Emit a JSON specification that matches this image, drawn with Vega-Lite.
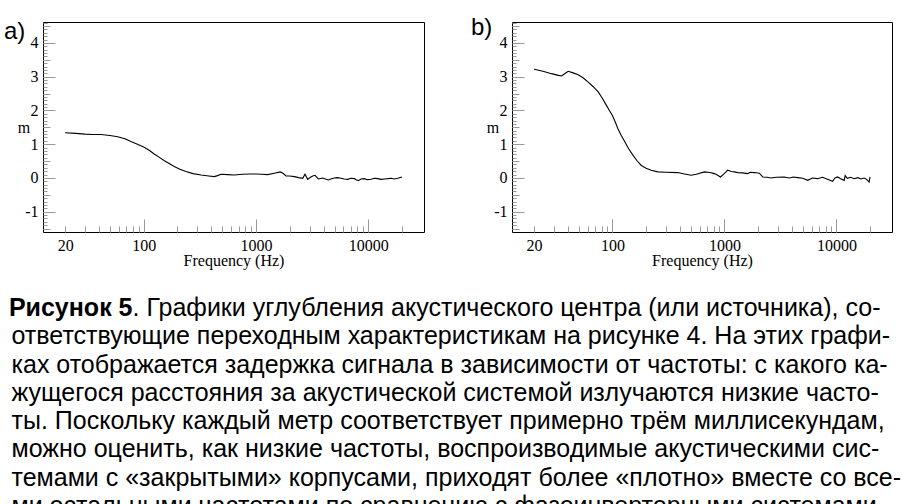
{
  "$schema": "https://vega.github.io/schema/vega-lite/v6.json",
  "padding": {"left": 3, "top": 14, "right": 0, "bottom": 0},
  "background": "white",
  "config": {
    "view": {"stroke": "black", "strokeWidth": 1},
    "axis": {
      "domain": false, "grid": false, "tickColor": "#999",
      "labelFont": "Liberation Serif", "labelFontSize": 16, "labelColor": "black",
      "titleFont": "Liberation Serif", "titleFontSize": 16, "titleFontWeight": "normal", "titleColor": "black",
      "labelOverlap": false, "labelFlush": false
    },
    "title": {"font": "Liberation Sans", "fontSize": 24, "fontWeight": "normal", "color": "black", "anchor": "start", "frame": "group", "baseline": "alphabetic"}
  },
  "datasets": {
    "a": [
      {"f": 20, "m": 1.34}, {"f": 25, "m": 1.32}, {"f": 30, "m": 1.3}, {"f": 35, "m": 1.29},
      {"f": 41.7, "m": 1.29}, {"f": 50, "m": 1.26}, {"f": 58.7, "m": 1.22}, {"f": 68, "m": 1.16},
      {"f": 77, "m": 1.08}, {"f": 88, "m": 1.0}, {"f": 100, "m": 0.92}, {"f": 112, "m": 0.82},
      {"f": 124, "m": 0.71}, {"f": 138, "m": 0.61}, {"f": 153, "m": 0.51}, {"f": 170, "m": 0.42},
      {"f": 187, "m": 0.34}, {"f": 210, "m": 0.26}, {"f": 238, "m": 0.19}, {"f": 275, "m": 0.13},
      {"f": 324, "m": 0.09}, {"f": 380, "m": 0.06}, {"f": 425, "m": 0.04}, {"f": 455, "m": 0.07},
      {"f": 488, "m": 0.11}, {"f": 560, "m": 0.1}, {"f": 641, "m": 0.09}, {"f": 760, "m": 0.11},
      {"f": 880, "m": 0.12}, {"f": 1000, "m": 0.12}, {"f": 1130, "m": 0.11}, {"f": 1270, "m": 0.1},
      {"f": 1455, "m": 0.14}, {"f": 1646, "m": 0.18}, {"f": 1740, "m": 0.14}, {"f": 1850, "m": 0.06},
      {"f": 2000, "m": 0.06}, {"f": 2194, "m": 0.04}, {"f": 2400, "m": 0.01}, {"f": 2606, "m": -0.01},
      {"f": 2731, "m": 0.11}, {"f": 2884, "m": -0.04}, {"f": 3050, "m": 0.02}, {"f": 3199, "m": 0.06},
      {"f": 3350, "m": 0.08}, {"f": 3589, "m": -0.03}, {"f": 3926, "m": 0.0}, {"f": 4150, "m": -0.03},
      {"f": 4406, "m": -0.06}, {"f": 4700, "m": -0.02}, {"f": 4979, "m": 0.0}, {"f": 5300, "m": 0.01},
      {"f": 5715, "m": -0.01}, {"f": 6100, "m": -0.03}, {"f": 6556, "m": -0.04}, {"f": 7000, "m": -0.01},
      {"f": 7505, "m": -0.02}, {"f": 7800, "m": -0.05}, {"f": 8150, "m": -0.08}, {"f": 8600, "m": -0.03},
      {"f": 9225, "m": -0.02}, {"f": 9800, "m": -0.05}, {"f": 10580, "m": -0.04}, {"f": 11300, "m": -0.01},
      {"f": 12140, "m": -0.02}, {"f": 13000, "m": -0.04}, {"f": 13910, "m": -0.03}, {"f": 15000, "m": -0.02},
      {"f": 15930, "m": -0.01}, {"f": 17000, "m": -0.03}, {"f": 18280, "m": -0.01}, {"f": 19950, "m": 0.03}
    ],
    "b": [
      {"f": 20, "m": 3.22}, {"f": 24, "m": 3.16}, {"f": 28.6, "m": 3.09}, {"f": 33, "m": 3.04},
      {"f": 35.2, "m": 3.02}, {"f": 38, "m": 3.1}, {"f": 40.3, "m": 3.16}, {"f": 44, "m": 3.12},
      {"f": 49.5, "m": 3.06}, {"f": 55, "m": 2.96}, {"f": 60.8, "m": 2.84}, {"f": 67, "m": 2.71},
      {"f": 74.7, "m": 2.55}, {"f": 81, "m": 2.37}, {"f": 88.5, "m": 2.15}, {"f": 94, "m": 2.0},
      {"f": 100, "m": 1.85}, {"f": 106, "m": 1.66}, {"f": 112, "m": 1.46}, {"f": 120, "m": 1.26},
      {"f": 129, "m": 1.07}, {"f": 140, "m": 0.86}, {"f": 153, "m": 0.67}, {"f": 166, "m": 0.51},
      {"f": 181, "m": 0.37}, {"f": 200, "m": 0.29}, {"f": 222, "m": 0.23}, {"f": 255, "m": 0.18},
      {"f": 300, "m": 0.17}, {"f": 384, "m": 0.16}, {"f": 440, "m": 0.12}, {"f": 505, "m": 0.08},
      {"f": 560, "m": 0.11}, {"f": 663, "m": 0.18}, {"f": 740, "m": 0.16}, {"f": 815, "m": 0.13},
      {"f": 870, "m": 0.08}, {"f": 921, "m": 0.03}, {"f": 990, "m": 0.12}, {"f": 1072, "m": 0.23},
      {"f": 1150, "m": 0.19}, {"f": 1230, "m": 0.18}, {"f": 1315, "m": 0.16}, {"f": 1450, "m": 0.15},
      {"f": 1614, "m": 0.13}, {"f": 1700, "m": 0.17}, {"f": 1850, "m": 0.16}, {"f": 2050, "m": 0.14},
      {"f": 2198, "m": 0.03}, {"f": 2400, "m": 0.02}, {"f": 2606, "m": 0.0}, {"f": 2900, "m": 0.02},
      {"f": 3422, "m": 0.03}, {"f": 3800, "m": 0.0}, {"f": 4100, "m": 0.03}, {"f": 4505, "m": 0.01},
      {"f": 5000, "m": -0.01}, {"f": 5533, "m": -0.07}, {"f": 6100, "m": 0.0}, {"f": 6792, "m": -0.02},
      {"f": 7500, "m": 0.02}, {"f": 8200, "m": -0.03}, {"f": 9230, "m": -0.1}, {"f": 9700, "m": 0.0},
      {"f": 10230, "m": 0.03}, {"f": 10900, "m": -0.02}, {"f": 11720, "m": -0.07}, {"f": 11950, "m": 0.07},
      {"f": 12500, "m": -0.01}, {"f": 13400, "m": 0.02}, {"f": 14380, "m": -0.02}, {"f": 15500, "m": 0.01},
      {"f": 16500, "m": -0.03}, {"f": 17650, "m": 0.0}, {"f": 18600, "m": -0.04}, {"f": 19560, "m": -0.12},
      {"f": 19950, "m": 0.03}
    ],
    "caption": [
      {"line": 1, "part": "bold", "text": "Рисунок 5"},
      {"line": 1, "part": "rest", "text": ". Графики углубления акустического центра (или источника), со-"},
      {"line": 2, "part": "body", "text": "ответствующие переходным характеристикам на рисунке 4. На этих графи-"},
      {"line": 3, "part": "body", "text": "ках отображается задержка сигнала в зависимости от частоты: с какого ка-"},
      {"line": 4, "part": "body", "text": "жущегося расстояния за акустической системой излучаются низкие часто-"},
      {"line": 5, "part": "body", "text": "ты. Поскольку каждый метр соответствует примерно трём миллисекундам,"},
      {"line": 6, "part": "body", "text": "можно оценить, как низкие частоты, воспроизводимые акустическими сис-"},
      {"line": 7, "part": "body", "text": "темами с «закрытыми» корпусами, приходят более «плотно» вместе со все-"},
      {"line": 8, "part": "body", "text": "ми остальными частотами по сравнению с фазоинверторными системами."}
    ]
  },
  "concat": [
    {
      "width": 381, "height": 210,
      "title": {"text": "a)", "dx": -39, "offset": -29},
      "data": {"name": "a"},
      "layer": [
        {
          "mark": {"type": "line", "color": "black", "strokeWidth": 1.1, "clip": true},
          "encoding": {
            "x": {"field": "f", "type": "quantitative", "scale": {"type": "log", "domain": [12.7, 31300], "nice": false},
              "axis": {"orient": "bottom", "values": [20, 30, 40, 50, 60, 70, 80, 90, 100, 200, 300, 400, 500, 600, 700, 800, 900, 1000, 2000, 3000, 4000, 5000, 6000, 7000, 8000, 9000, 10000, 20000],
                "labelExpr": "datum.value == 20 || datum.value == 100 || datum.value == 1000 || datum.value == 10000 ? '' + datum.value : ''",
                "tickSize": -6, "labelPadding": 11, "title": "Frequency (Hz)", "titlePadding": -1}},
            "y": {"field": "m", "type": "quantitative", "scale": {"domain": [-1.6, 4.62], "nice": false, "zero": false},
              "axis": {"orient": "left", "values": [-1.5, -1.4, -1.3, -1.2, -1.1, -1, -0.9, -0.8, -0.7, -0.6, -0.5, -0.4, -0.3, -0.2, -0.1, 0, 0.1, 0.2, 0.3, 0.4, 0.5, 0.6, 0.7, 0.8, 0.9, 1, 1.1, 1.2, 1.3, 1.4, 1.5, 1.6, 1.7, 1.8, 1.9, 2, 2.1, 2.2, 2.3, 2.4, 2.5, 2.6, 2.7, 2.8, 2.9, 3, 3.1, 3.2, 3.3, 3.4, 3.5, 3.6, 3.7, 3.8, 3.9, 4, 4.1, 4.2, 4.3, 4.4, 4.5, 4.6],
                "labelExpr": "datum.value % 1 == 0 ? '' + datum.value : ''",
                "tickSize": -4, "labelPadding": 9, "title": "m", "titleAngle": 0, "titleAlign": "right", "titleBaseline": "middle", "titlePadding": -5}}
          }
        },
        {
          "mark": {"type": "line", "strokeOpacity": 0},
          "encoding": {
            "x": {"field": "f", "type": "quantitative", "scale": {"type": "log", "domain": [12.7, 31300], "nice": false},
              "axis": {"orient": "bottom", "values": [100, 1000, 10000], "tickSize": -13, "labels": false, "title": null}},
            "y": {"field": "m", "type": "quantitative", "scale": {"domain": [-1.6, 4.62], "nice": false, "zero": false},
              "axis": {"orient": "left", "values": [-1, 0, 1, 2, 3, 4], "tickSize": -12, "labels": false, "title": null}}
          }
        },
        {
          "mark": {"type": "line", "strokeOpacity": 0},
          "encoding": {
            "x": {"field": "f", "type": "quantitative", "scale": {"type": "log", "domain": [12.7, 31300], "nice": false}, "axis": null},
            "y": {"field": "m", "type": "quantitative", "scale": {"domain": [-1.6, 4.62], "nice": false, "zero": false},
              "axis": {"orient": "left", "values": [-1.5, -0.5, 0.5, 1.5, 2.5, 3.5, 4.5], "tickSize": -7, "labels": false, "title": null}}
          }
        }
      ],
      "resolve": {"axis": {"x": "independent", "y": "independent"}}
    },
    {
      "width": 380, "height": 210,
      "title": {"text": "b)", "dx": -41, "offset": -25},
      "data": {"name": "b"},
      "layer": [
        {
          "mark": {"type": "line", "color": "black", "strokeWidth": 1.1, "clip": true},
          "encoding": {
            "x": {"field": "f", "type": "quantitative", "scale": {"type": "log", "domain": [12.7, 31300], "nice": false},
              "axis": {"orient": "bottom", "values": [20, 30, 40, 50, 60, 70, 80, 90, 100, 200, 300, 400, 500, 600, 700, 800, 900, 1000, 2000, 3000, 4000, 5000, 6000, 7000, 8000, 9000, 10000, 20000],
                "labelExpr": "datum.value == 20 || datum.value == 100 || datum.value == 1000 || datum.value == 10000 ? '' + datum.value : ''",
                "tickSize": -6, "labelPadding": 11, "title": "Frequency (Hz)", "titlePadding": -1}},
            "y": {"field": "m", "type": "quantitative", "scale": {"domain": [-1.6, 4.62], "nice": false, "zero": false},
              "axis": {"orient": "left", "values": [-1.5, -1.4, -1.3, -1.2, -1.1, -1, -0.9, -0.8, -0.7, -0.6, -0.5, -0.4, -0.3, -0.2, -0.1, 0, 0.1, 0.2, 0.3, 0.4, 0.5, 0.6, 0.7, 0.8, 0.9, 1, 1.1, 1.2, 1.3, 1.4, 1.5, 1.6, 1.7, 1.8, 1.9, 2, 2.1, 2.2, 2.3, 2.4, 2.5, 2.6, 2.7, 2.8, 2.9, 3, 3.1, 3.2, 3.3, 3.4, 3.5, 3.6, 3.7, 3.8, 3.9, 4, 4.1, 4.2, 4.3, 4.4, 4.5, 4.6],
                "labelExpr": "datum.value % 1 == 0 ? '' + datum.value : ''",
                "tickSize": -4, "labelPadding": 9, "title": "m", "titleAngle": 0, "titleAlign": "right", "titleBaseline": "middle", "titlePadding": -5}}
          }
        },
        {
          "mark": {"type": "line", "strokeOpacity": 0},
          "encoding": {
            "x": {"field": "f", "type": "quantitative", "scale": {"type": "log", "domain": [12.7, 31300], "nice": false},
              "axis": {"orient": "bottom", "values": [100, 1000, 10000], "tickSize": -13, "labels": false, "title": null}},
            "y": {"field": "m", "type": "quantitative", "scale": {"domain": [-1.6, 4.62], "nice": false, "zero": false},
              "axis": {"orient": "left", "values": [-1, 0, 1, 2, 3, 4], "tickSize": -12, "labels": false, "title": null}}
          }
        },
        {
          "mark": {"type": "line", "strokeOpacity": 0},
          "encoding": {
            "x": {"field": "f", "type": "quantitative", "scale": {"type": "log", "domain": [12.7, 31300], "nice": false}, "axis": null},
            "y": {"field": "m", "type": "quantitative", "scale": {"domain": [-1.6, 4.62], "nice": false, "zero": false},
              "axis": {"orient": "left", "values": [-1.5, -0.5, 0.5, 1.5, 2.5, 3.5, 4.5], "tickSize": -7, "labels": false, "title": null}}
          }
        }
      ],
      "resolve": {"axis": {"x": "independent", "y": "independent"}}
    },
    {
      "width": 381, "height": 198,
      "view": {"stroke": null},
      "data": {"name": "caption"},
      "encoding": {
        "x": {"datum": 0, "type": "quantitative", "scale": {"domain": [0, 1]}, "axis": null},
        "y": {"field": "line", "type": "quantitative", "scale": {"domain": [1, 8], "reverse": true, "nice": false, "zero": false}, "axis": null},
        "text": {"field": "text"}
      },
      "layer": [
        {"transform": [{"filter": "datum.part == 'body'"}],
         "mark": {"type": "text", "align": "left", "baseline": "alphabetic", "dx": -31.5, "font": "Liberation Sans", "fontSize": 25, "color": "black"}},
        {"transform": [{"filter": "datum.part == 'bold'"}],
         "mark": {"type": "text", "align": "right", "baseline": "alphabetic", "dx": 89.5, "font": "Liberation Sans", "fontSize": 25, "fontWeight": "bold", "color": "black"}},
        {"transform": [{"filter": "datum.part == 'rest'"}],
         "mark": {"type": "text", "align": "left", "baseline": "alphabetic", "dx": 89.5, "font": "Liberation Sans", "fontSize": 25, "color": "black"}}
      ]
    }
  ],
  "columns": 2,
  "spacing": {"row": 84, "column": 88},
  "bounds": "flush"
}
